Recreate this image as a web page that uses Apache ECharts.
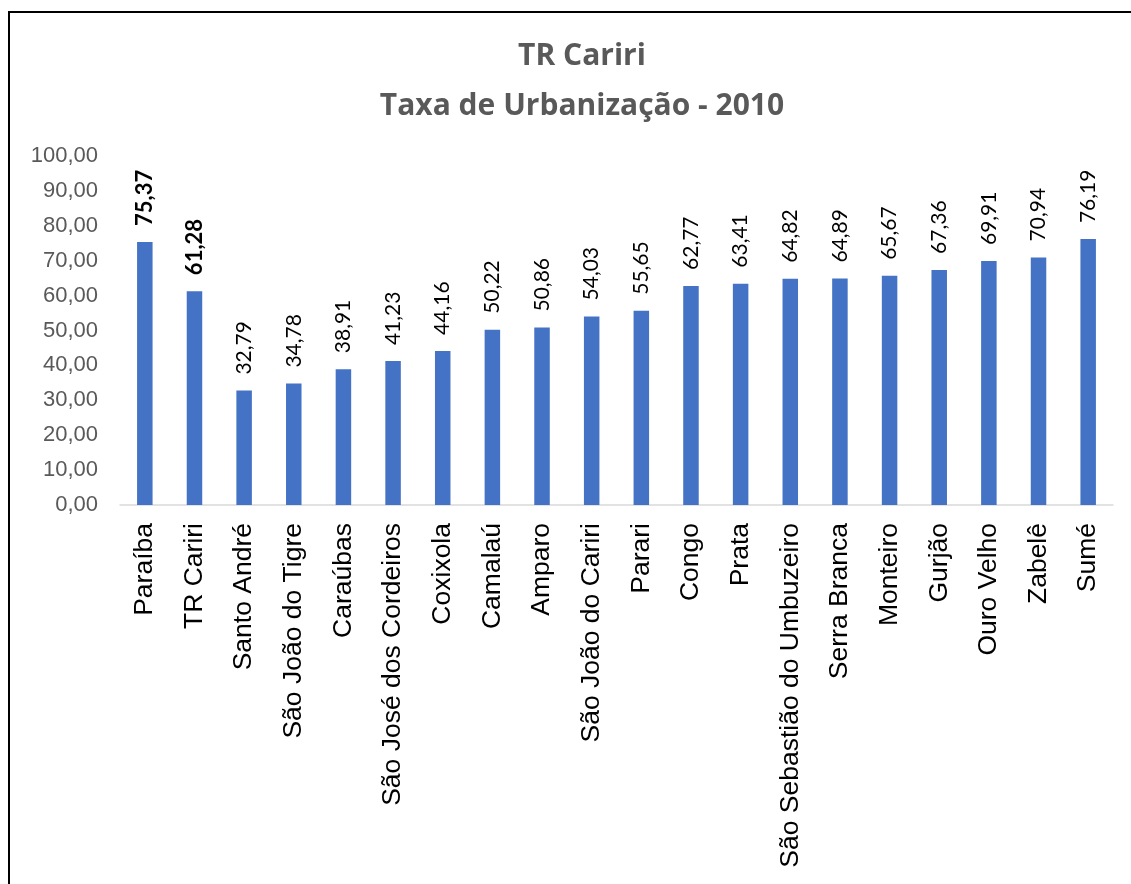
<!DOCTYPE html>
<html>
<head>
<meta charset="utf-8">
<script src="https://cdn.jsdelivr.net/npm/echarts@6/dist/echarts.min.js"></script>
<style>
html,body{margin:0;padding:0;background:#fff;}
#main{width:1131px;height:884px;}
</style>
</head>
<body>
<div id="main"></div>
<script>
const titleLines = ['TR Cariri', 'Taxa de Urbanização - 2010'];
const categories = ['Paraíba','TR Cariri','Santo André','São João do Tigre','Caraúbas','São José dos Cordeiros','Coxixola','Camalaú','Amparo','São João do Cariri','Parari','Congo','Prata','São Sebastião do Umbuzeiro','Serra Branca','Monteiro','Gurjão','Ouro Velho','Zabelê','Sumé'];
const values = [75.37,61.28,32.79,34.78,38.91,41.23,44.16,50.22,50.86,54.03,55.65,62.77,63.41,64.82,64.89,65.67,67.36,69.91,70.94,76.19];
const boldCount = 2;
const yMin = 0, yMax = 100, yStep = 10;

const fmt = v => v.toFixed(2).replace('.', ',');

const chart = echarts.init(document.getElementById('main'));
chart.setOption({
  backgroundColor: '#fff',
  animation: false,
  title: {
    text: titleLines.join('\n'),
    left: 577, top: 26, textAlign: 'center',
    textStyle: {fontFamily: 'Open Sans', fontWeight: 'bold', fontSize: 30, color: '#595959', lineHeight: 50}
  },
  graphic: [{
    type: 'rect', silent: true,
    shape: {x: 9, y: 12, width: 1400, height: 1200},
    style: {fill: 'none', stroke: '#000', lineWidth: 2}
  }],
  grid: {left: 120, right: 18, top: 156, bottom: 379, containLabel: false},
  xAxis: {
    type: 'category', data: categories,
    axisLine: {lineStyle: {color: '#d9d9d9', width: 1.5}},
    axisTick: {show: false},
    axisLabel: {rotate: 90, interval: 0, margin: 18, color: '#000', fontFamily: 'Liberation Sans', fontSize: 26.5}
  },
  yAxis: {
    type: 'value', min: yMin, max: yMax, interval: yStep,
    axisLine: {show: false}, axisTick: {show: false},
    splitLine: {show: false},
    axisLabel: {formatter: v => fmt(v), color: '#595959', fontFamily: 'Liberation Sans', fontSize: 22, margin: 22}
  },
  series: [{
    type: 'bar',
    data: values.map((v, i) => ({
      value: v,
      label: i < boldCount ? {fontWeight: 'bold', fontSize: 22} : {}
    })),
    barWidth: 15.5,
    itemStyle: {color: '#4472C4'},
    label: {
      show: true, position: 'top', rotate: 90, align: 'left', verticalAlign: 'middle',
      distance: 16, formatter: p => fmt(p.value),
      fontFamily: 'Lato', fontSize: 21, color: '#000'
    }
  }]
});
</script>
</body>
</html>
